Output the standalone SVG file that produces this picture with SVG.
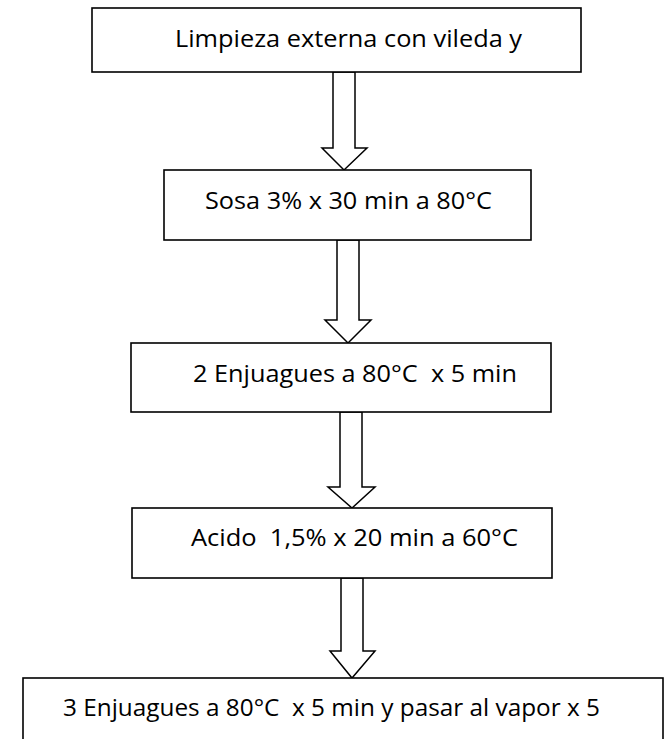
<svg xmlns="http://www.w3.org/2000/svg" width="664" height="739" viewBox="0 0 664 739">
  <style>
    .box { fill: #ffffff; stroke: #000000; stroke-width: 1.6; }
    .arrow { fill: #ffffff; stroke: #000000; stroke-width: 1.5; stroke-linejoin: miter; }
    .label { font-family: "Open Sans", "Noto Sans", "Liberation Sans", sans-serif; font-size: 23px; fill: #000000; white-space: pre; }
  </style>
  <rect width="664" height="739" fill="#ffffff"/>

  <!-- block arrows between steps -->
  <g id="connectors">
    <path class="arrow" d="M333,72 V148 H322 L344,170 L367,148 H355 V72 Z"/>
    <path class="arrow" d="M337,240 V320 H325 L348,343 L371,320 H359 V240 Z"/>
    <path class="arrow" d="M340,412 V487 H328 L352,508 L375,487 H362 V412 Z"/>
    <path class="arrow" d="M341,578 V651 H330 L352,678 L375,651 H363 V578 Z"/>
  </g>

  <g id="step1">
    <rect class="box" x="92" y="8" width="489" height="64"/>
    <text class="label" x="175" y="47" textLength="347" lengthAdjust="spacingAndGlyphs">Limpieza externa con vileda y</text>
  </g>

  <g id="step2">
    <rect class="box" x="164" y="170" width="367" height="70"/>
    <text class="label" x="205" y="209" textLength="287" lengthAdjust="spacingAndGlyphs">Sosa 3% x 30 min a 80°C</text>
  </g>

  <g id="step3">
    <rect class="box" x="131" y="343" width="420" height="69"/>
    <text class="label" x="193" y="382" textLength="324" lengthAdjust="spacingAndGlyphs" xml:space="preserve">2 Enjuagues a 80°C  x 5 min</text>
  </g>

  <g id="step4">
    <rect class="box" x="132" y="508" width="420" height="70"/>
    <text class="label" x="191" y="546" textLength="327" lengthAdjust="spacingAndGlyphs" xml:space="preserve">Acido  1,5% x 20 min a 60°C</text>
  </g>

  <g id="step5">
    <rect class="box" x="23" y="678" width="640" height="80"/>
    <text class="label" x="63" y="716" textLength="537" lengthAdjust="spacingAndGlyphs" xml:space="preserve">3 Enjuagues a 80°C  x 5 min y pasar al vapor x 5</text>
  </g>
</svg>
